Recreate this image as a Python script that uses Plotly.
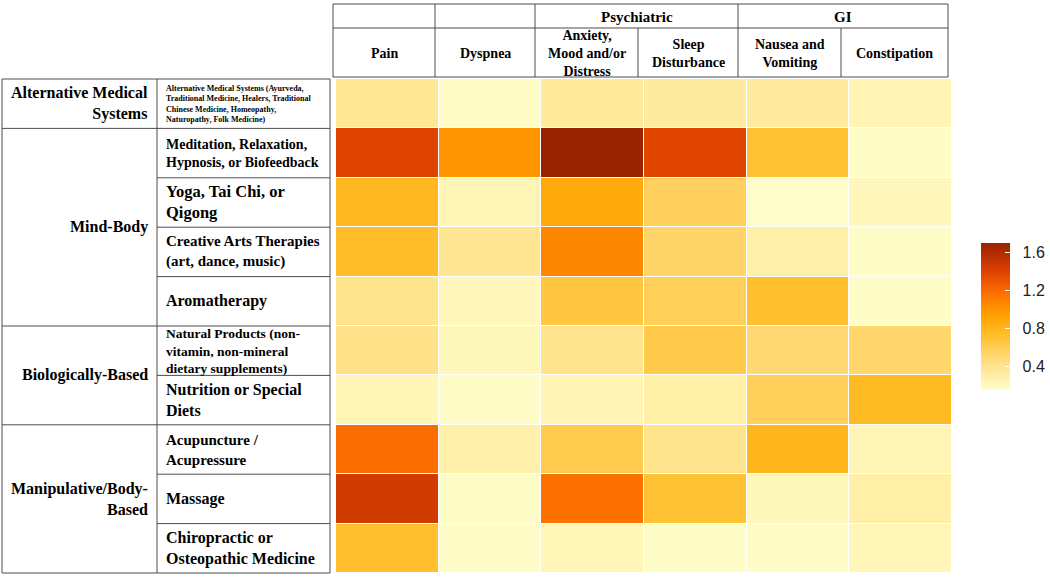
import plotly.graph_objects as go

# ---------------- data ----------------
symptoms = ["Pain", "Dyspnea", "Anxiety,<br>Mood and/or<br>Distress", "Sleep<br>Disturbance",
            "Nausea and<br>Vomiting", "Constipation"]
symptom_groups = ["", "", "Psychiatric", "GI"]

therapies = [
    "Alternative Medical Systems (Ayurveda,<br>Traditional Medicine, Healers, Traditional<br>Chinese Medicine, Homeopathy,<br>Naturopathy, Folk Medicine)",
    "Meditation, Relaxation,<br>Hypnosis, or Biofeedback",
    "Yoga, Tai Chi, or<br>Qigong",
    "Creative Arts Therapies<br>(art, dance, music)",
    "Aromatherapy",
    "Natural Products (non-<br>vitamin, non-mineral<br>dietary supplements)",
    "Nutrition or Special<br>Diets",
    "Acupuncture /<br>Acupressure",
    "Massage",
    "Chiropractic or<br>Osteopathic Medicine",
]
therapy_font_sizes = [8, 14, 16.5, 15, 16, 13.5, 16, 15, 16, 16]
groups = ["Alternative Medical<br>Systems", "Mind-Body", "Biologically-Based", "Manipulative/Body-<br>Based"]
group_sizes = [1, 4, 2, 3]

values = [
    [0.37, 0.18, 0.35, 0.33, 0.34, 0.25],
    [1.40, 1.00, 1.70, 1.38, 0.70, 0.17],
    [0.78, 0.24, 0.88, 0.57, 0.16, 0.22],
    [0.74, 0.38, 1.06, 0.53, 0.29, 0.17],
    [0.40, 0.22, 0.66, 0.58, 0.72, 0.17],
    [0.42, 0.21, 0.40, 0.63, 0.50, 0.52],
    [0.24, 0.17, 0.25, 0.30, 0.58, 0.76],
    [1.18, 0.28, 0.62, 0.40, 0.80, 0.24],
    [1.46, 0.17, 1.16, 0.70, 0.21, 0.30],
    [0.72, 0.17, 0.23, 0.17, 0.17, 0.23],
]
colorbar_ticks = [0.4, 0.8, 1.2, 1.6]
zmin, zmax = 0.15, 1.70

# colour stops (value, colour)
stops = [
    (0.15, "rgb(255,255,204)"),
    (0.45, "rgb(255,222,130)"),
    (0.75, "rgb(255,188,38)"),
    (0.95, "rgb(254,160,0)"),
    (1.15, "rgb(254,115,0)"),
    (1.40, "rgb(222,66,0)"),
    (1.70, "rgb(153,34,0)"),
]
colorscale = [[(v - zmin) / (zmax - zmin), c] for v, c in stops]

W, H = 1050, 577


def fx(px):
    return px / W


def fy(py):
    return 1 - py / H


# layout geometry (pixels)
hm_x0, hm_x1 = 336, 952
hm_y0, hm_y1 = 79, 573
row_h = (hm_y1 - hm_y0) / len(therapies)

fig = go.Figure()
fig.add_trace(go.Heatmap(
    z=values,
    x=list(range(len(symptoms))),
    y=list(range(len(therapies))),
    zmin=zmin, zmax=zmax,
    colorscale=colorscale,
    xgap=1, ygap=1,
    hoverinfo="z",
    colorbar=dict(
        x=fx(981), xanchor="left", xpad=0,
        y=fy(316.5), yanchor="middle", ypad=0,
        len=147 / H, lenmode="fraction",
        thickness=29, thicknessmode="pixels",
        outlinewidth=0,
        tickvals=colorbar_ticks,
        ticktext=["\u00a0\u00a0" + f"{t:.1f}" for t in colorbar_ticks],
        ticks="inside", ticklen=5, tickcolor="white", tickwidth=1,
        tickfont=dict(family="Liberation Sans, Arial", size=16, color="#222"),
    ),
))

shapes = []
annotations = []
LC = "#4d4d4d"
LW = 1


def line(x0, y0, x1, y1):
    shapes.append(dict(type="line", xref="paper", yref="paper",
                       x0=fx(x0), y0=fy(y0), x1=fx(x1), y1=fy(y1),
                       line=dict(color=LC, width=LW)))


def text(t, x, y, size, xanchor="center"):
    annotations.append(dict(text=t, xref="paper", yref="paper", x=fx(x), y=fy(y),
                            xanchor=xanchor, yanchor="middle", showarrow=False,
                            align={"center": "center", "left": "left", "right": "right"}[xanchor],
                            font=dict(family="Liberation Serif, Times New Roman", size=size,
                                      color="black", weight="bold")))


# ---------- header table ----------
hx = [333, 435, 535, 638, 738, 841, 948]
h_top, h_mid, h_bot = 4, 28, 77
line(hx[0], h_top, hx[-1], h_top)
line(hx[0], h_mid, hx[-1], h_mid)
line(hx[0], h_bot, hx[-1], h_bot)
for xv in hx:
    if xv in (638, 841):
        line(xv, h_mid, xv, h_bot)
    else:
        line(xv, h_top, xv, h_bot)
# group header labels
text(symptom_groups[2], (hx[2] + hx[4]) / 2, (h_top + h_mid) / 2 + 1, 15)
text(symptom_groups[3], (hx[4] + hx[6]) / 2, (h_top + h_mid) / 2 + 1, 15)
for i, s in enumerate(symptoms):
    text(s, (hx[i] + hx[i + 1]) / 2, (h_mid + h_bot) / 2 + 1, 14)

# ---------- left table ----------
lx0, lxm, lx1 = 2, 157, 330
line(lx0, hm_y0, lx1, hm_y0)
line(lx0, hm_y1, lx1, hm_y1)
line(lx0, hm_y0, lx0, hm_y1)
line(lxm, hm_y0, lxm, hm_y1)
line(lx1, hm_y0, lx1, hm_y1)
row = 0
group_bounds = []
for g, n in zip(groups, group_sizes):
    y0 = hm_y0 + row * row_h
    y1 = hm_y0 + (row + n) * row_h
    group_bounds.append(row + n)
    if row + n < len(therapies):
        line(lx0, y1, lx1, y1)
    text(g, 150, (y0 + y1) / 2, 16, xanchor="right")
    row += n
for r in range(1, len(therapies)):
    if r not in group_bounds:
        yv = hm_y0 + r * row_h
        line(lxm, yv, lx1, yv)
for r, (t, fs) in enumerate(zip(therapies, therapy_font_sizes)):
    text(t, 164, hm_y0 + (r + 0.5) * row_h, fs, xanchor="left")

fig.update_layout(
    width=W, height=H,
    margin=dict(l=0, r=0, t=0, b=0, pad=0, autoexpand=False),
    paper_bgcolor="white", plot_bgcolor="white",
    xaxis=dict(domain=[fx(hm_x0), fx(hm_x1)], range=[-0.5, len(symptoms) - 0.5],
               showticklabels=False, showgrid=False, zeroline=False, ticks=""),
    yaxis=dict(domain=[fy(hm_y1), fy(hm_y0)], range=[len(therapies) - 0.5, -0.5],
               showticklabels=False, showgrid=False, zeroline=False, ticks=""),
    shapes=shapes,
    annotations=annotations,
)

fig.write_html("out.html", config={"displayModeBar": False},
               post_script="document.body.style.margin='0';")
